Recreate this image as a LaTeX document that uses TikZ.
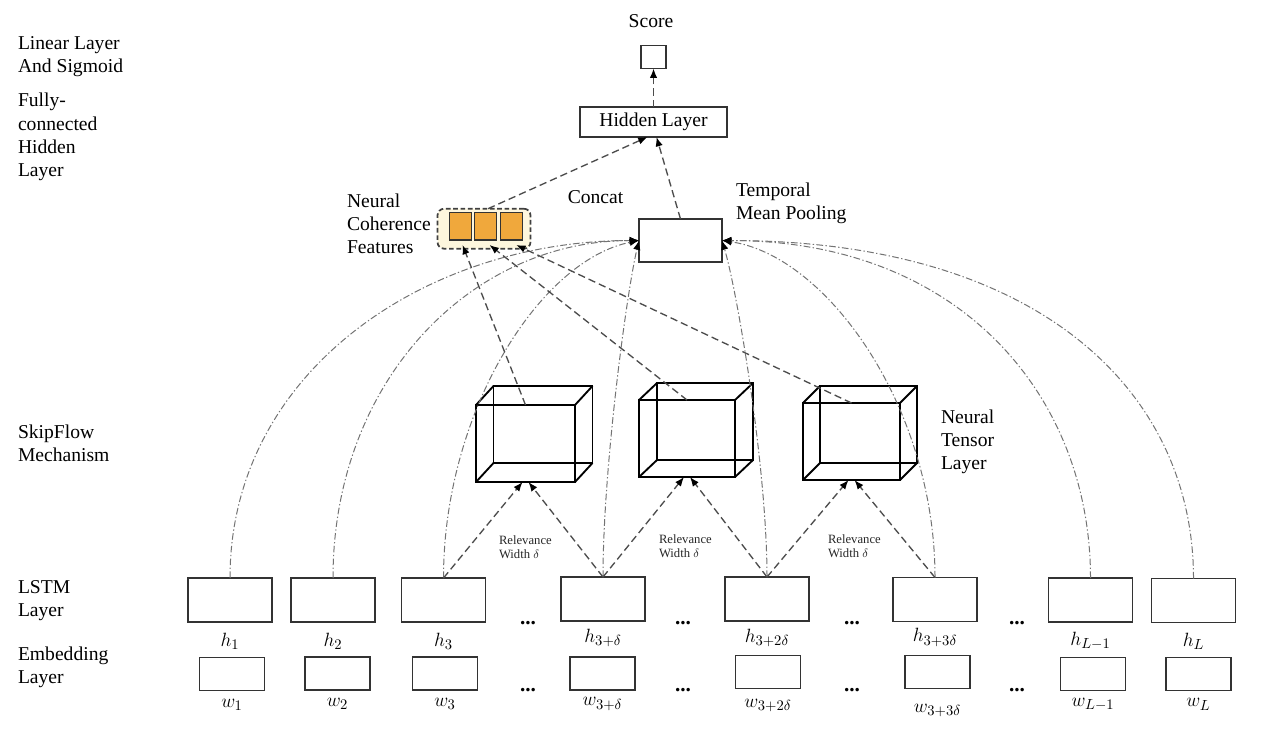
\documentclass[tikz,border=0pt]{standalone}
\usepackage{fontspec}
\setmainfont{Liberation Serif}
\usetikzlibrary{arrows.meta,calc}
\begin{document}
\begin{tikzpicture}[x=0.75pt,y=-0.75pt,
  every node/.style={inner sep=0pt, outer sep=0pt},
  lbl/.style={font=\fontsize{14.7}{17.4}\selectfont, align=left, anchor=west},
  txt/.style={font=\fontsize{14.7}{17.4}\selectfont},
  rlbl/.style={font=\fontsize{9.5}{10.6}\selectfont, align=left, anchor=west, text=black!85},
  mlbl/.style={font=\fontsize{15}{17}\selectfont},
  dotsl/.style={font=\fontsize{16}{18}\selectfont\bfseries, anchor=base},
  box/.style={draw=black!80, line width=1.4pt, fill=white},
  hbox/.style={box, minimum width=84*0.75pt, minimum height=44*0.75pt},
  wbox/.style={box, minimum width=65*0.75pt, minimum height=33*0.75pt},
  cubef/.style={draw=black, line width=1.4pt},
  arr/.style={-{Latex[length=7pt,width=5.5pt,color=black]}},
  dd/.style={arr, draw=black!55, line width=0.75pt, dash pattern=on 5pt off 1.8pt on 1pt off 1.8pt},
  rel/.style={arr, draw=black!70, line width=1pt, dash pattern=on 5.5pt off 3pt},
  sq/.style={draw=black!80, line width=1pt, fill={rgb,255:red,240;green,168;blue,60}, minimum width=22*0.75pt, minimum height=27.5*0.75pt}
]
\useasboundingbox (0,0) rectangle (1280,754);

% left labels
\node[lbl] (l1) at (18,57) {Linear Layer\\And Sigmoid};
\node[lbl] (l2) at (18,137) {Fully-\\connected\\Hidden\\Layer};
\node[lbl] (l3) at (18,443) {SkipFlow\\Mechanism};
\node[lbl] (l4) at (18,600.5) {LSTM\\Layer};
\node[lbl] (l5) at (18,667) {Embedding\\Layer};

% top part
\node[txt] (scoret) at (651,21) {Score};
\node[box, minimum width=25*0.75pt, minimum height=23*0.75pt] (score) at (653.5,57) {};
\node[box, minimum width=147*0.75pt, minimum height=30*0.75pt, txt] (hid) at (653.5,122) {Hidden Layer};
\node[box, minimum width=83*0.75pt, minimum height=43*0.75pt] (pool) at (680.5,240.5) {};
\node[txt] (concat) at (595.5,197) {Concat};
\node[lbl] (poolt) at (736,203.5) {Temporal\\Mean Pooling};
\node[lbl] (featt) at (347,223.5) {Neural\\Coherence\\Features};
\node[draw=black!75, line width=1.3pt, dash pattern=on 3.5pt off 2pt, rounded corners=5pt,
      fill={rgb,255:red,253;green,246;blue,221}, minimum width=93*0.75pt, minimum height=40*0.75pt] (feat) at (484,228.7) {};
\node[sq] (sq1) at (460.5,226.2) {};
\node[sq] (sq2) at (485.5,226.2) {};
\node[sq] (sq3) at (511.2,226.2) {};
\node[lbl] (ntl) at (941,442) {Neural\\Tensor\\Layer};

% LSTM boxes
\node[hbox] (h1) at (230,600) {};
\node[hbox] (h2) at (333,600) {};
\node[hbox] (h3) at (443.5,600) {};
\node[hbox] (h3d) at (603,599) {};
\node[hbox] (h32d) at (767,599) {};
\node[hbox] (h33d) at (935,599.5) {};
\node[hbox] (hL1) at (1090.5,600) {};
\node[hbox] (hL) at (1193.5,600.5) {};

% embedding boxes
\node[wbox] (w1) at (232,674) {};
\node[wbox] (w2) at (337.5,673.5) {};
\node[wbox] (w3) at (445,673.5) {};
\node[wbox] (w3d) at (602.5,673.5) {};
\node[wbox] (w32d) at (768,672) {};
\node[wbox] (w33d) at (937.5,672) {};
\node[wbox] (wL1) at (1093,674) {};
\node[wbox] (wL) at (1198.5,674) {};

% labels
\node[mlbl] (lh1) at ($(h1.south)+(0,19)$) {$h_1$};
\node[mlbl] (lh2) at ($(h2.south)+(0,19)$) {$h_2$};
\node[mlbl] (lh3) at ($(h3.south)+(0,19)$) {$h_3$};
\node[mlbl] (lh3d) at ($(h3d.south)+(0,17)$) {$h_{3+\delta}$};
\node[mlbl] (lh32d) at ($(h32d.south)+(0,17)$) {$h_{3+2\delta}$};
\node[mlbl] (lh33d) at ($(h33d.south)+(0,16)$) {$h_{3+3\delta}$};
\node[mlbl] (lhL1) at ($(hL1.south)+(0,19)$) {$h_{L-1}$};
\node[mlbl] (lhL) at ($(hL.south)+(0,19)$) {$h_L$};
\node[mlbl] (lw1) at ($(w1.south)+(0,14)$) {$w_1$};
\node[mlbl] (lw2) at ($(w2.south)+(0,14)$) {$w_2$};
\node[mlbl] (lw3) at ($(w3.south)+(0,14)$) {$w_3$};
\node[mlbl] (lw3d) at ($(w3d.south)+(0,14)$) {$w_{3+\delta}$};
\node[mlbl] (lw32d) at ($(w32d.south)+(0,17)$) {$w_{3+2\delta}$};
\node[mlbl] (lw33d) at ($(w33d.south)+(0,22)$) {$w_{3+3\delta}$};
\node[mlbl] (lwL1) at ($(wL1.south)+(0,14)$) {$w_{L-1}$};
\node[mlbl] (lwL) at ($(wL.south)+(0,14)$) {$w_L$};

% dots
\foreach \x/\n in {528/a,683/b,852/c,1017/d}{
  \node[dotsl] (dh\n) at (\x,624) {...};
  \node[dotsl] (dw\n) at (\x,691) {...};
}

% cubes
\node[cubef, minimum width=99*0.75pt, minimum height=77*0.75pt] (cf1) at (525.5,443.5) {};
\node[cubef, minimum width=99*0.75pt, minimum height=77*0.75pt] (cb1) at (543,424.5) {};
\node[cubef, minimum width=96*0.75pt, minimum height=77*0.75pt] (cf2) at (687,438.5) {};
\node[cubef, minimum width=96*0.75pt, minimum height=77*0.75pt] (cb2) at (705,421.5) {};
\node[cubef, minimum width=97*0.75pt, minimum height=77*0.75pt] (cf3) at (851.5,441.5) {};
\node[cubef, minimum width=97*0.75pt, minimum height=77*0.75pt] (cb3) at (868.5,424.5) {};
\foreach \i in {1,2,3}{
  \draw[cubef] (cf\i.north west) -- (cb\i.north west)
               (cf\i.north east) -- (cb\i.north east)
               (cf\i.south west) -- (cb\i.south west)
               (cf\i.south east) -- (cb\i.south east);
}

% relevance labels
\node[rlbl] (r1) at (499,547) {Relevance\\Width $\delta$};
\node[rlbl] (r2) at (659,546) {Relevance\\Width $\delta$};
\node[rlbl] (r3) at (828,546) {Relevance\\Width $\delta$};

% skip curves to pooling
\draw[dd] (h1.north) .. controls +(0,-205) and +(-215,0) .. (pool.west);
\draw[dd] (h2.north) .. controls +(0,-195) and +(-170,0) .. (pool.west);
\draw[dd] (h3.north) .. controls +(0,-165) and +(-100,20) .. (pool.west);
\draw[dd] (h3d.north) .. controls +(0,-110) and +(-12,50) .. (pool.west);
\draw[dd] (h32d.north) .. controls +(0,-110) and +(15,50) .. (pool.east);
\draw[dd] (h33d.north) .. controls +(0,-170) and +(105,15) .. (pool.east);
\draw[dd] (hL1.north) .. controls +(0,-180) and +(240,0) .. (pool.east);
\draw[dd] (hL.north) .. controls +(0,-185) and +(320,0) .. (pool.east);

% relevance arrows
\draw[rel] (h3.north) -- ($(cf1.south)+(-3,0)$);
\draw[rel] (h3d.north) -- ($(cf1.south)+(3,0)$);
\draw[rel] (h3d.north) -- ($(cf2.south)+(-3,0)$);
\draw[rel] (h32d.north) -- ($(cf2.south)+(3,0)$);
\draw[rel] (h32d.north) -- ($(cf3.south)+(-3,0)$);
\draw[rel] (h33d.north) -- ($(cf3.south)+(3,0)$);

% coherence arrows
\draw[rel] (cf1.north) -- ($(sq1.south)+(2,5)$);
\draw[rel] (cf2.north) -- ($(sq2.south)+(4,5)$);
\draw[rel] (cf3.north) -- ($(sq3.south)+(5,5)$);

% upper arrows
\draw[rel] ($(feat.north)+(4,0)$) -- ($(hid.south)+(-6,0)$);
\draw[rel] (pool.north) -- ($(hid.south)+(3,0)$);
\draw[rel] (hid.north) -- (score.south);
\end{tikzpicture}
\end{document}
